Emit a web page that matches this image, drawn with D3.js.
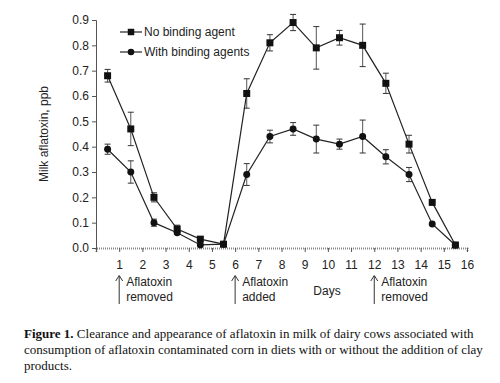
<!DOCTYPE html>
<html>
<head>
<meta charset="utf-8">
<script src="https://cdn.jsdelivr.net/npm/d3@7"></script>
<style>
  body { margin: 0; background: #fff; }
  svg { display: block; }
</style>
</head>
<body>
<svg id="chart" width="500" height="383"></svg>
<script>
const days = [0.5, 1.5, 2.5, 3.5, 4.5, 5.5, 6.5, 7.5, 8.5, 9.5, 10.5, 11.5, 12.5, 13.5, 14.5, 15.5];
const noBinding = [0.68, 0.47, 0.20, 0.075, 0.035, 0.015, 0.61, 0.81, 0.89, 0.79, 0.83, 0.80, 0.65, 0.41, 0.18, 0.012];
const noBindingErr = [0.025, 0.066, 0.018, 0.015, 0, 0, 0.058, 0.032, 0.032, 0.084, 0.029, 0.084, 0.04, 0.035, 0, 0];
const withBinding = [0.39, 0.30, 0.10, 0.06, 0.012, 0.015, 0.29, 0.44, 0.47, 0.43, 0.41, 0.44, 0.36, 0.29, 0.095, 0.011];
const withBindingErr = [0.02, 0.044, 0.014, 0, 0, 0, 0.043, 0.025, 0.025, 0.055, 0.02, 0.065, 0.028, 0.028, 0, 0];
const xTicks = d3.range(0, 17);
const yTicks = [0, 0.1, 0.2, 0.3, 0.4, 0.5, 0.6, 0.7, 0.8, 0.9];
const events = [
  { day: 1, lines: ["Aflatoxin", "removed"] },
  { day: 6, lines: ["Aflatoxin", "added"] },
  { day: 12, lines: ["Aflatoxin", "removed"] }
];
const captionLines = [
  "Clearance and appearance of aflatoxin in milk of dairy cows associated with",
  "consumption of aflatoxin contaminated corn in diets with or without the addition of clay",
  "products."
];

const svg = d3.select("#chart");
const x = d3.scaleLinear().domain([0, 16]).range([96, 467]);
const y = d3.scaleLinear().domain([0, 0.9]).range([248, 20]);
const sans = "Arial, 'Liberation Sans', sans-serif";
const fs = 12;

// y axis
const yAxis = svg.append("g")
  .attr("transform", `translate(${x(0)},0)`)
  .call(d3.axisLeft(y).tickValues(yTicks).tickFormat(d3.format(".1f")).tickSize(4).tickPadding(3));
yAxis.select(".domain").attr("stroke", "#555");
yAxis.selectAll(".tick line").attr("stroke", "#555");
yAxis.selectAll("text").attr("font-family", sans).attr("font-size", fs).attr("fill", "#222");

// x axis
const xAxis = svg.append("g")
  .attr("transform", `translate(0,${y(0)})`)
  .call(d3.axisBottom(x).tickValues(xTicks).tickFormat(d => d === 0 ? "" : d).tickSize(4).tickPadding(8));
xAxis.select(".domain").attr("stroke", "#888").attr("stroke-width", 2).attr("stroke-dasharray", "1,1");
xAxis.selectAll(".tick line").attr("stroke", "#555");
xAxis.selectAll("text").attr("font-family", sans).attr("font-size", fs).attr("fill", "#222");

// axis titles
svg.append("text")
  .attr("transform", `translate(48,${(y(0) + y(0.9)) / 2}) rotate(-90)`)
  .attr("text-anchor", "middle")
  .attr("font-family", sans).attr("font-size", fs).attr("fill", "#222")
  .text("Milk aflatoxin, ppb");

svg.append("text")
  .attr("x", 327).attr("y", 295)
  .attr("text-anchor", "middle")
  .attr("font-family", sans).attr("font-size", fs).attr("fill", "#222")
  .text("Days");

// event annotations
const ev = svg.append("g");
events.forEach(e => {
  const g = ev.append("g").attr("transform", `translate(${x(e.day)},0)`);
  g.append("line").attr("x1", 0).attr("x2", 0).attr("y1", 276).attr("y2", 304)
    .attr("stroke", "#333").attr("stroke-width", 1);
  g.append("path").attr("d", "M-3.5,281 L0,275.5 L3.5,281")
    .attr("fill", "none").attr("stroke", "#333").attr("stroke-width", 1);
  g.selectAll("text").data(e.lines).enter().append("text")
    .attr("x", 7).attr("y", (d, i) => 286 + i * 15)
    .attr("font-family", sans).attr("font-size", fs).attr("fill", "#222")
    .text(d => d);
});

// series
const series = [
  { name: "No binding agent", values: noBinding, err: noBindingErr, shape: "square" },
  { name: "With binding agents", values: withBinding, err: withBindingErr, shape: "circle" }
];

const line = d3.line().x((d, i) => x(days[i])).y(d => y(d));

series.forEach(s => {
  const g = svg.append("g");
  // error bars
  days.forEach((d, i) => {
    if (!s.err[i]) return;
    const hi = y(s.values[i] + s.err[i]);
    const lo = y(s.values[i] - s.err[i]);
    g.append("line").attr("x1", x(d)).attr("x2", x(d)).attr("y1", hi).attr("y2", lo)
      .attr("stroke", "#555").attr("stroke-width", 1);
    [hi, lo].forEach(v => g.append("line")
      .attr("x1", x(d) - 3).attr("x2", x(d) + 3).attr("y1", v).attr("y2", v)
      .attr("stroke", "#333").attr("stroke-width", 1));
  });
  g.append("path").datum(s.values).attr("d", line)
    .attr("fill", "none").attr("stroke", "#222").attr("stroke-width", 1.2);
  const sym = d3.symbol().type(s.shape === "square" ? d3.symbolSquare : d3.symbolCircle)
    .size(s.shape === "square" ? 49 : 38);
  g.selectAll(".pt").data(s.values).enter().append("path")
    .attr("transform", (d, i) => `translate(${x(days[i])},${y(d)})`)
    .attr("d", sym).attr("fill", "#111");
});

// legend
const legend = svg.append("g").attr("transform", "translate(120,32)");
series.forEach((s, i) => {
  const row = legend.append("g").attr("transform", `translate(0,${i * 20})`);
  row.append("line").attr("x1", 0).attr("x2", 22).attr("stroke", "#222").attr("stroke-width", 1.2);
  row.append("path").attr("transform", "translate(11,0)")
    .attr("d", d3.symbol().type(s.shape === "square" ? d3.symbolSquare : d3.symbolCircle)
      .size(s.shape === "square" ? 42 : 34))
    .attr("fill", "#111");
  row.append("text").attr("x", 24).attr("y", 4)
    .attr("font-family", sans).attr("font-size", fs).attr("fill", "#222")
    .text(s.name);
});

// caption
const cap = svg.append("text")
  .attr("font-family", "'Liberation Serif', 'Times New Roman', serif")
  .attr("font-size", 13).attr("fill", "#111");
captionLines.forEach((t, i) => {
  const ts = cap.append("tspan").attr("x", 24).attr("y", 338 + i * 16);
  if (i === 0) {
    ts.append("tspan").attr("font-weight", "bold").text("Figure 1.");
    ts.append("tspan").text(" " + t);
  } else {
    ts.text(t);
  }
});
</script>
</body>
</html>
